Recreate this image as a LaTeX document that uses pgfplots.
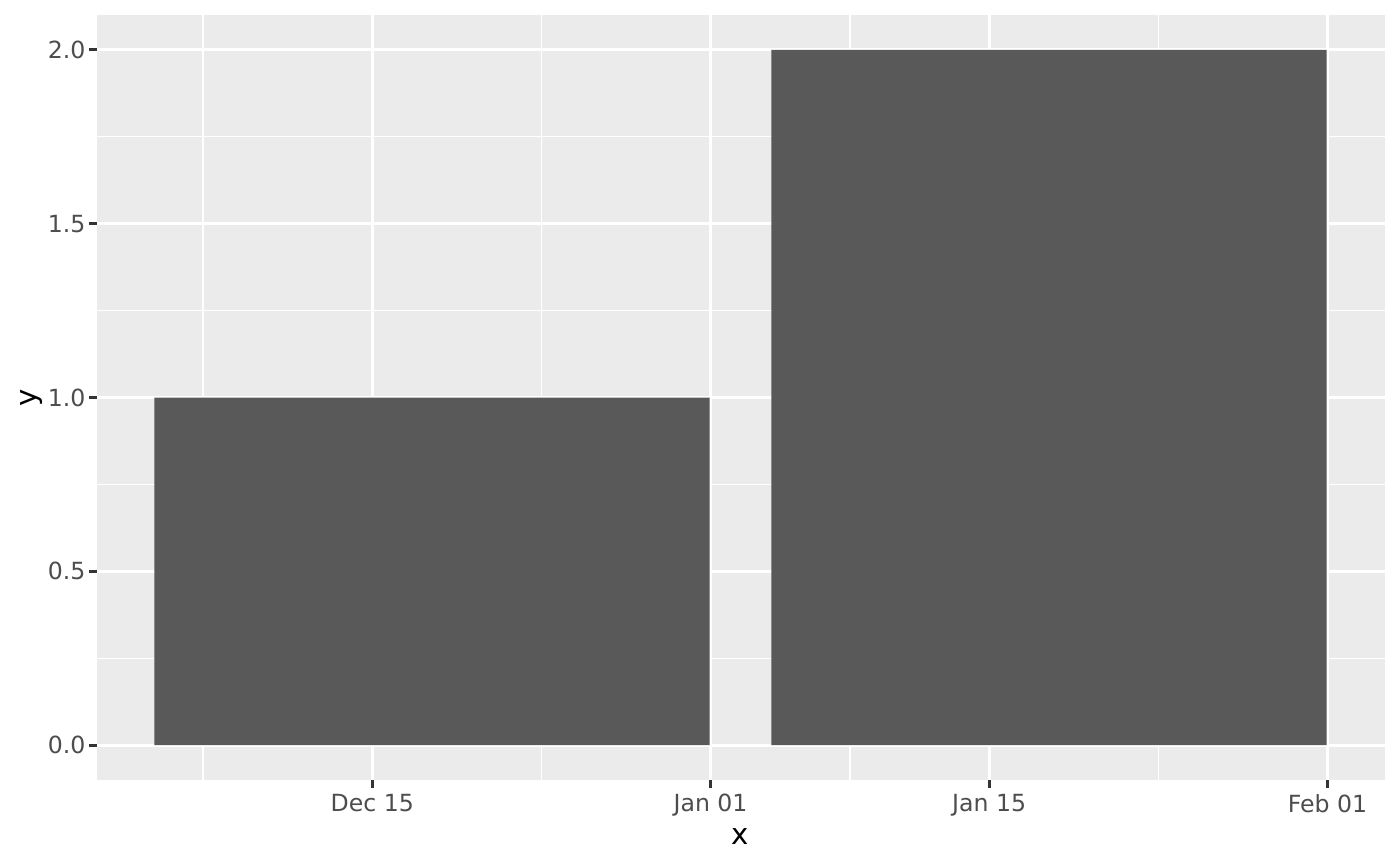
\documentclass[border=0pt]{standalone}
\usepackage{fontspec}
\setmainfont{DejaVu Sans}
\usepackage{pgfplots}
\pgfplotsset{compat=1.18}
\definecolor{ggbg}{HTML}{EBEBEB}
\definecolor{ggbar}{HTML}{595959}
\definecolor{ggticklab}{HTML}{4D4D4D}
\definecolor{ggtick}{HTML}{333333}
\begin{document}
\begin{tikzpicture}
\path[use as bounding box] (-34.92pt,-30.96pt) rectangle (469.08pt,280.8pt);
\begin{axis}[
  scale only axis, width=463.68pt, height=275.4pt,
  at={(0pt,0pt)}, anchor=south west,
  xmin=-30.83, xmax=33.89, ymin=-0.1, ymax=2.1,
  axis background/.style={fill=ggbg},
  axis line style={draw=none},
  xtick={-17,0,14,31},
  xticklabels={Dec 15,Jan 01,Jan 15,Feb 01},
  minor xtick={-25.5,-8.5,7,22.5},
  ytick={0,0.5,1,1.5,2},
  minor ytick={0.25,0.75,1.25,1.75},
  /pgf/number format/assume math mode=true,
  yticklabel style={/pgf/number format/fixed, /pgf/number format/fixed zerofill, /pgf/number format/precision=1},
  tick align=outside, tick pos=left,
  major tick length=2.7pt, minor tick length=0pt,
  every tick/.style={ggtick, line width=1.08pt},
  grid=both,
  major grid style={white, line width=1.08pt},
  minor grid style={white, line width=0.54pt},
  tick label style={font=\fontsize{8.5}{10}\selectfont, text=ggticklab},
  xticklabel style={anchor=north, inner sep=0pt, yshift=-2.2pt},
  yticklabel style={anchor=east, inner sep=0pt, xshift=-1.3pt},
  xlabel={x}, ylabel={y},
  every axis x label/.style={at={(axis description cs:0.499,-0.0745)}, anchor=center, font=\fontsize{10.5}{12}\selectfont},
  every axis y label/.style={at={(axis description cs:-0.0512,0.5)}, anchor=center, rotate=90, font=\fontsize{10.5}{12}\selectfont},
]
\addplot[ybar, bar width=27.9, bar shift=0pt, fill=ggbar, draw=none] coordinates {(-14,1) (17,2)};
\end{axis}
\end{tikzpicture}
\end{document}
